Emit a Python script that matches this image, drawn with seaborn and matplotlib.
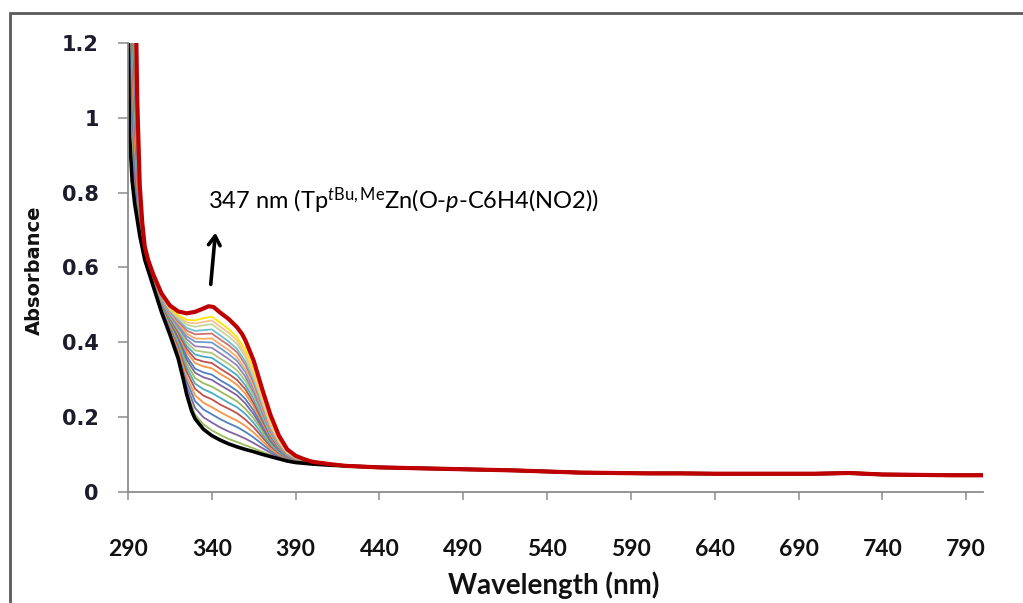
import matplotlib
matplotlib.use("Agg")
import matplotlib.pyplot as plt
from matplotlib.patches import Rectangle
import seaborn as sns
import pandas as pd

# ---------------- data ----------------
wave_uv = [290, 294, 297, 300, 305, 310, 315, 320, 325, 330, 335, 340,
           345, 350, 355, 360, 365, 370, 375, 380, 385, 390, 400, 410]
wave_tail = [420, 440, 460, 480, 500, 520, 540, 560, 580, 600, 620, 640,
             660, 680, 700, 710, 720, 730, 740, 760, 780, 800]
abs_tail = [0.069, 0.065, 0.063, 0.061, 0.059, 0.057, 0.054, 0.051, 0.050, 0.049, 0.049, 0.048,
            0.048, 0.048, 0.048, 0.049, 0.050, 0.048, 0.046, 0.045, 0.044, 0.044]

# first spectrum (black)
wave_start = [290, 291, 292.5, 294, 297, 300, 305, 310, 315, 320, 323, 325, 328, 330, 335, 340,
              345, 350, 355, 360, 365, 370, 375, 380, 385, 390, 400, 410]
abs_start = [1.25, 0.95, 0.83, 0.77, 0.685, 0.62, 0.55, 0.48, 0.42, 0.355, 0.30, 0.26, 0.215, 0.195,
             0.167, 0.15, 0.138, 0.128, 0.12, 0.113, 0.107, 0.1, 0.094, 0.088, 0.082, 0.078, 0.074, 0.071]

# final spectrum (red)
wave_final = [290, 294, 295.5, 297, 298.5, 300, 302, 305, 310, 315, 320, 325, 330, 335, 338, 341,
              345, 350, 355, 358, 360, 365, 370, 375, 380, 385, 390, 395, 400, 410]
abs_final = [2.2, 1.5, 1.05, 0.82, 0.72, 0.655, 0.62, 0.582, 0.53, 0.498, 0.482, 0.477, 0.481, 0.49,
             0.496, 0.494, 0.479, 0.462, 0.44, 0.422, 0.405, 0.35, 0.275, 0.205, 0.15, 0.113, 0.096,
             0.087, 0.08, 0.074]

step01 = [1.288, 0.799, 0.690, 0.621, 0.551, 0.482, 0.423, 0.360, 0.269, 0.206, 0.180, 0.164,
          0.152, 0.141, 0.133, 0.124, 0.116, 0.107, 0.098, 0.090, 0.083, 0.079, 0.074, 0.071]
step02 = [1.345, 0.843, 0.699, 0.624, 0.553, 0.485, 0.428, 0.368, 0.282, 0.224, 0.199, 0.185,
          0.172, 0.161, 0.152, 0.142, 0.130, 0.117, 0.104, 0.093, 0.085, 0.080, 0.075, 0.071]
step03 = [1.407, 0.890, 0.707, 0.626, 0.555, 0.488, 0.433, 0.376, 0.296, 0.242, 0.220, 0.207,
          0.194, 0.183, 0.173, 0.160, 0.145, 0.127, 0.110, 0.097, 0.086, 0.081, 0.075, 0.071]
step04 = [1.459, 0.931, 0.715, 0.628, 0.557, 0.491, 0.437, 0.383, 0.308, 0.258, 0.238, 0.226,
          0.213, 0.201, 0.190, 0.176, 0.158, 0.136, 0.115, 0.099, 0.088, 0.082, 0.075, 0.072]
step05 = [1.516, 0.974, 0.723, 0.630, 0.559, 0.494, 0.442, 0.391, 0.321, 0.275, 0.257, 0.247,
          0.233, 0.222, 0.210, 0.193, 0.172, 0.146, 0.121, 0.103, 0.089, 0.082, 0.076, 0.072]
step06 = [1.564, 1.011, 0.730, 0.632, 0.561, 0.497, 0.446, 0.397, 0.332, 0.289, 0.274, 0.264,
          0.251, 0.238, 0.226, 0.208, 0.184, 0.154, 0.126, 0.105, 0.091, 0.083, 0.076, 0.072]
step07 = [1.611, 1.047, 0.736, 0.633, 0.562, 0.499, 0.450, 0.403, 0.342, 0.304, 0.290, 0.281,
          0.268, 0.255, 0.242, 0.222, 0.196, 0.163, 0.130, 0.108, 0.092, 0.084, 0.076, 0.072]
step08 = [1.659, 1.084, 0.743, 0.635, 0.564, 0.502, 0.454, 0.410, 0.353, 0.318, 0.306, 0.299,
          0.285, 0.272, 0.258, 0.236, 0.207, 0.171, 0.135, 0.110, 0.093, 0.085, 0.077, 0.072]
step09 = [1.697, 1.113, 0.748, 0.636, 0.565, 0.504, 0.457, 0.415, 0.362, 0.329, 0.319, 0.313,
          0.298, 0.285, 0.270, 0.248, 0.217, 0.178, 0.139, 0.112, 0.094, 0.086, 0.077, 0.072]
step10 = [1.744, 1.150, 0.755, 0.638, 0.567, 0.506, 0.461, 0.421, 0.373, 0.344, 0.335, 0.330,
          0.315, 0.302, 0.286, 0.262, 0.228, 0.186, 0.144, 0.115, 0.096, 0.086, 0.077, 0.073]
step11 = [1.782, 1.179, 0.761, 0.640, 0.568, 0.508, 0.464, 0.426, 0.382, 0.355, 0.348, 0.344,
          0.329, 0.315, 0.299, 0.274, 0.237, 0.192, 0.148, 0.117, 0.097, 0.087, 0.077, 0.073]
step12 = [1.820, 1.208, 0.766, 0.641, 0.569, 0.510, 0.467, 0.431, 0.390, 0.367, 0.361, 0.358,
          0.343, 0.328, 0.312, 0.285, 0.247, 0.199, 0.152, 0.119, 0.098, 0.088, 0.078, 0.073]
step13 = [1.858, 1.237, 0.771, 0.642, 0.570, 0.512, 0.470, 0.436, 0.399, 0.378, 0.374, 0.371,
          0.356, 0.342, 0.325, 0.297, 0.256, 0.206, 0.155, 0.121, 0.099, 0.088, 0.078, 0.073]
step14 = [1.896, 1.266, 0.777, 0.644, 0.572, 0.514, 0.473, 0.441, 0.408, 0.389, 0.387, 0.385,
          0.370, 0.355, 0.338, 0.308, 0.265, 0.212, 0.159, 0.123, 0.100, 0.089, 0.078, 0.073]
step15 = [1.934, 1.296, 0.782, 0.645, 0.573, 0.516, 0.476, 0.446, 0.416, 0.401, 0.400, 0.399,
          0.384, 0.368, 0.350, 0.320, 0.275, 0.219, 0.163, 0.125, 0.101, 0.090, 0.078, 0.073]
step16 = [1.963, 1.318, 0.786, 0.646, 0.574, 0.518, 0.479, 0.450, 0.423, 0.410, 0.409, 0.410,
          0.394, 0.379, 0.360, 0.328, 0.282, 0.224, 0.166, 0.127, 0.102, 0.090, 0.079, 0.073]
step17 = [2.001, 1.347, 0.792, 0.648, 0.575, 0.520, 0.482, 0.455, 0.431, 0.421, 0.422, 0.423,
          0.407, 0.392, 0.373, 0.340, 0.291, 0.230, 0.170, 0.129, 0.103, 0.091, 0.079, 0.073]
step18 = [2.029, 1.369, 0.796, 0.649, 0.576, 0.521, 0.484, 0.459, 0.438, 0.430, 0.432, 0.434,
          0.418, 0.402, 0.382, 0.348, 0.298, 0.235, 0.173, 0.131, 0.103, 0.091, 0.079, 0.073]
step19 = [2.067, 1.398, 0.801, 0.650, 0.578, 0.523, 0.487, 0.464, 0.447, 0.441, 0.445, 0.448,
          0.431, 0.415, 0.395, 0.360, 0.307, 0.242, 0.177, 0.133, 0.104, 0.092, 0.079, 0.074]
step20 = [2.096, 1.420, 0.805, 0.651, 0.578, 0.525, 0.489, 0.468, 0.453, 0.450, 0.454, 0.458,
          0.441, 0.425, 0.405, 0.368, 0.314, 0.247, 0.179, 0.134, 0.105, 0.092, 0.079, 0.074]
step21 = [2.124, 1.442, 0.809, 0.652, 0.579, 0.526, 0.492, 0.472, 0.460, 0.458, 0.464, 0.468,
          0.452, 0.435, 0.414, 0.380, 0.328, 0.260, 0.192, 0.142, 0.109, 0.094, 0.080, 0.074]

steps = [step01, step02, step03, step04, step05, step06, step07, step08, step09, step10,
         step11, step12, step13, step14, step15, step16, step17, step18, step19, step20, step21]
step_colors = ['#9BBB59', '#8064A2', '#4F81BD', '#F79646', '#C0504D', '#4BACC6',
               '#9BBB59', '#8064A2', '#4F81BD', '#F79646', '#C0504D', '#4BACC6',
               '#AFC97A', '#9983B5', '#729ACA', '#F9AB6B', '#CD7371', '#6FBDD1',
               '#C3D69B', '#F9C090', '#FFE600']

x_ticks = [290, 340, 390, 440, 490, 540, 590, 640, 690, 740, 790]
y_ticks = [0, 0.2, 0.4, 0.6, 0.8, 1.0, 1.2]
y_tick_labels = ['0', '0.2', '0.4', '0.6', '0.8', '1', '1.2']

# ---------------- build long-form frames ----------------
wave_all = wave_uv + wave_tail
rows = []
for i, s in enumerate(steps):
    for w, a in zip(wave_all, s + abs_tail):
        rows.append({'wave': w, 'abs': a, 'curve': f's{i + 1:02d}'})
df_steps = pd.DataFrame(rows)
df_start = pd.DataFrame({'wave': wave_start + wave_tail, 'abs': abs_start + abs_tail})
df_final = pd.DataFrame({'wave': wave_final + wave_tail, 'abs': abs_final + abs_tail})

# ---------------- figure ----------------
sns.set_theme(style='white')
plt.rcParams['font.family'] = ['DejaVu Sans']
plt.rcParams['mathtext.fontset'] = 'custom'
plt.rcParams['mathtext.rm'] = 'Lato'
plt.rcParams['mathtext.it'] = 'Lato:italic'

fig = plt.figure(figsize=(10.23, 6.03), dpi=100)
fig.patch.set_facecolor('white')
ax = fig.add_axes([128 / 1023, 1 - 491.7 / 603, 855 / 1023, 448.7 / 603])

palette = {f's{i + 1:02d}': c for i, c in enumerate(step_colors)}
sns.lineplot(data=df_steps, x='wave', y='abs', hue='curve', palette=palette,
             estimator=None, sort=False, linewidth=1.3, legend=False, ax=ax)
sns.lineplot(data=df_start, x='wave', y='abs', color='black', estimator=None,
             sort=False, linewidth=2.6, ax=ax)
sns.lineplot(data=df_final, x='wave', y='abs', color='#C00000', estimator=None,
             sort=False, linewidth=3.0, ax=ax)

ax.set_xlim(290, 800)
ax.set_ylim(0, 1.2)
ax.set_xticks(x_ticks)
ax.set_xticklabels([str(t) for t in x_ticks],
                   fontdict={'family': ['Lato', 'DejaVu Sans'], 'weight': 'bold', 'size': 16.5})
ax.set_yticks(y_ticks)
ax.set_yticklabels(y_tick_labels, fontdict={'weight': 'bold', 'size': 15})
for lab in ax.get_yticklabels():
    lab.set_color('#1c1c2c')
for lab in ax.get_xticklabels():
    lab.set_color('#111111')

for side in ['top', 'right']:
    ax.spines[side].set_visible(False)
for side in ['left', 'bottom']:
    ax.spines[side].set_color('#8c8c8c')
    ax.spines[side].set_linewidth(1.3)
ax.tick_params(axis='y', direction='out', length=7, width=1.1, color='#8c8c8c', pad=14, left=True)
ax.tick_params(axis='x', direction='out', length=6, width=1.1, color='#8c8c8c', pad=28, bottom=True)
ax.grid(False)

ax.set_xlabel('Wavelength (nm)', fontdict={'family': ['Lato', 'DejaVu Sans'],
                                           'weight': 'bold', 'size': 20})
ax.xaxis.set_label_coords(0.498, -0.208)
ax.xaxis.label.set_va('center')
ax.xaxis.label.set_color('#111111')
ax.set_ylabel('Absorbance', fontdict={'weight': 'bold', 'size': 14})
ax.yaxis.set_label_coords(-0.109, 0.494)
ax.yaxis.label.set_va('center')
ax.yaxis.label.set_color('#111111')

ax.text(337.7, 0.755, r'347 nm (Tp$^{\mathit{t}\mathrm{Bu,Me}}$Zn(O-$\mathit{p}$-C6H4(NO2))',
        family=['Lato', 'DejaVu Sans'], fontsize=17, color='black', va='baseline', ha='left')
ax.annotate('', xy=(342.3, 0.70), xytext=(339.2, 0.547),
            arrowprops=dict(arrowstyle='->,head_length=0.55,head_width=0.35',
                            lw=2.6, color='black'))

# outer chart frame (extends past the right and bottom edges)
fig.patches.append(Rectangle((10 / 1023, -0.2), 1.2, 0.2 + (1 - 13 / 603),
                             transform=fig.transFigure, fill=False,
                             edgecolor='#5a5a5a', linewidth=2.0))

fig.savefig('out.png', dpi=100)
